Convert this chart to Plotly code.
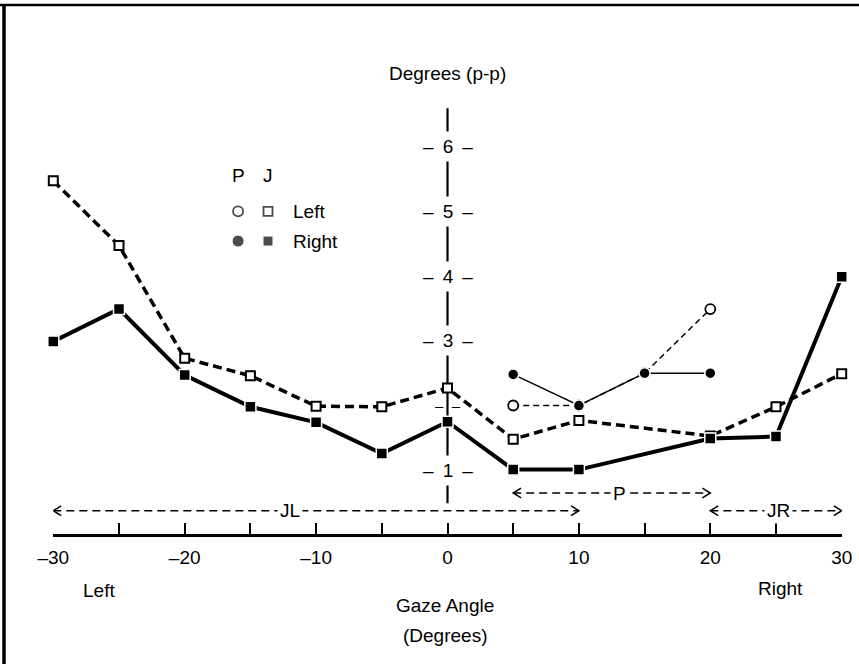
import plotly.graph_objects as go

# ---------------- data ----------------
gaze_j = [-30, -25, -20, -15, -10, -5, 0, 5, 10, 20, 25, 30]
j_left = [5.47, 4.47, 2.73, 2.46, 1.99, 1.98, 2.27, 1.48, 1.77, 1.53, 1.98, 2.49]
j_right = [2.99, 3.49, 2.47, 1.98, 1.74, 1.26, 1.75, 1.01, 1.01, 1.49, 1.52, 3.99]

gaze_p = [5, 10, 15, 20]
p_left = [2.0, 2.0, 2.5, 3.49]
p_right = [2.48, 2.0, 2.5, 2.5]

x_tickvals = [-30, -25, -20, -15, -10, -5, 0, 5, 10, 15, 20, 25, 30]
x_ticktext = ["–30", "", "–20", "", "–10", "", "0", "", "10", "", "20", "", "30"]
y_labels = [1, 2, 3, 4, 5, 6]

# measurement ranges (name, start, end)
ranges = [("JL", -30, 10), ("P", 5, 20), ("JR", 20, 30)]

# ---------------- layout constants ----------------
W, H = 859, 664
FONT = "Liberation Sans, Arial, Helvetica, sans-serif"
FS = 19
X_RANGE = [-30, 30]
Y_RANGE = [-1.992, 8.263]
X_DOMAIN = [53.3 / W, 841.7 / W]
AXIS_POS = 129 / H

fig = go.Figure()

# J series
fig.add_trace(go.Scatter(
    x=gaze_j, y=j_left, mode="lines+markers",
    line=dict(color="black", width=3.5, dash="9px,5px"),
    marker=dict(symbol="square", size=9, color="white", line=dict(color="black", width=2)),
    cliponaxis=False, showlegend=False))
fig.add_trace(go.Scatter(
    x=gaze_j, y=j_right, mode="lines+markers",
    line=dict(color="black", width=4),
    marker=dict(symbol="square", size=11, color="black", line=dict(color="white", width=1.5)),
    cliponaxis=False, showlegend=False))
# P series
fig.add_trace(go.Scatter(
    x=gaze_p, y=p_left, mode="lines+markers",
    line=dict(color="black", width=1.5, dash="6px,4px"),
    marker=dict(symbol="circle", size=10, color="white", line=dict(color="black", width=1.8)),
    cliponaxis=False, showlegend=False))
fig.add_trace(go.Scatter(
    x=gaze_p, y=p_right, mode="lines+markers",
    line=dict(color="black", width=1.5),
    marker=dict(symbol="circle", size=11, color="black", line=dict(color="white", width=1.5)),
    cliponaxis=False, showlegend=False))

# legend symbols (drawn as a small key)
lx_p, lx_j = -15.94, -13.66
ly_left, ly_right = 5.0, 4.54
fig.add_trace(go.Scatter(
    x=[lx_p, lx_j], y=[ly_left, ly_left], mode="markers",
    marker=dict(symbol=["circle", "square"], size=[10, 9], color="white",
                line=dict(color="black", width=1.8)),
    cliponaxis=False, showlegend=False, hoverinfo="skip"))
fig.add_trace(go.Scatter(
    x=[lx_p, lx_j], y=[ly_right, ly_right], mode="markers",
    marker=dict(symbol=["circle", "square"], size=[12, 10], color="black"),
    cliponaxis=False, showlegend=False, hoverinfo="skip"))

annotations = []
shapes = []


def txt(x, y, s, xref="x", yref="y", size=FS, xanchor="center", **kw):
    annotations.append(dict(x=x, y=y, xref=xref, yref=yref, text=s, showarrow=False,
                            xanchor=xanchor, yanchor="middle",
                            font=dict(family=FONT, size=size, color="black"), **kw))


# legend text
txt(lx_p, 5.55, "P")
txt(lx_j, 5.55, "J")
txt(-11.9, ly_left, "Left", xanchor="left")
txt(-11.9, ly_right, "Right", xanchor="left")

# vertical value axis at gaze 0
shapes.append(dict(type="line", xref="x", yref="y", x0=0, x1=0, y0=0.49, y1=6.59,
                   line=dict(color="black", width=2.2), layer="below"))
sp = "\u00a0\u2009"
for v in y_labels:
    if v == 2:
        txt(0, v, "–" + "\u00a0" * 2 + "–", size=15)
    else:
        txt(0, v, "–" + sp + str(v) + sp + "–", bgcolor="white", borderpad=4)

# range arrows
arrow_y = {"JL": 0.375, "P": 0.649, "JR": 0.375}
label_x = {"JL": -12.0, "P": 13.1, "JR": 25.2}
dx, dy = 0.6, 0.075
for name, a, b in ranges:
    yv = arrow_y[name]
    shapes.append(dict(type="line", xref="x", yref="y", x0=a, x1=b, y0=yv, y1=yv,
                       line=dict(color="black", width=1.5, dash="8px,5px")))
    shapes.append(dict(type="path", xref="x", yref="y",
                       path=f"M {a + dx},{yv + dy} L {a},{yv} L {a + dx},{yv - dy}",
                       line=dict(color="black", width=1.5)))
    shapes.append(dict(type="path", xref="x", yref="y",
                       path=f"M {b - dx},{yv + dy} L {b},{yv} L {b - dx},{yv - dy}",
                       line=dict(color="black", width=1.5)))
    txt(label_x[name], yv, name, bgcolor="white", borderpad=2)

# axis titles and side labels (paper coords)
txt(448 / W, 1 - 73 / H, "Degrees (p-p)", xref="paper", yref="paper")
txt(445 / W, 1 - 605 / H, "Gaze Angle", xref="paper", yref="paper")
txt(445 / W, 1 - 635 / H, "(Degrees)", xref="paper", yref="paper")
txt(99 / W, 1 - 590 / H, "Left", xref="paper", yref="paper")
txt(780 / W, 1 - 588 / H, "Right", xref="paper", yref="paper")

# frame lines (scan border)
shapes.append(dict(type="line", xref="paper", yref="paper", x0=0, x1=1,
                   y0=1 - 5 / H, y1=1 - 5 / H, line=dict(color="black", width=2.5)))
shapes.append(dict(type="line", xref="paper", yref="paper", x0=4 / W, x1=4 / W,
                   y0=0, y1=1 - 4 / H, line=dict(color="black", width=3.5)))

fig.update_layout(
    template="none",
    width=W, height=H, margin=dict(l=0, r=0, t=0, b=0, pad=0, autoexpand=False),
    paper_bgcolor="white", plot_bgcolor="white",
    showlegend=False,
    font=dict(family=FONT, size=FS, color="black"),
    xaxis=dict(range=X_RANGE, domain=X_DOMAIN, anchor="free", position=AXIS_POS,
               automargin=False,
               showgrid=False, zeroline=False, showline=True, linecolor="black", linewidth=2.5,
               ticks="inside", ticklen=11, tickwidth=1.5, tickcolor="black",
               tickvals=x_tickvals, ticktext=x_ticktext, ticklabelstandoff=4,
               tickfont=dict(family=FONT, size=FS, color="black")),
    yaxis=dict(range=Y_RANGE, domain=[0, 1], visible=False, showgrid=False, zeroline=False,
               automargin=False),
    annotations=annotations, shapes=shapes,
)

fig.write_html("out.html")
